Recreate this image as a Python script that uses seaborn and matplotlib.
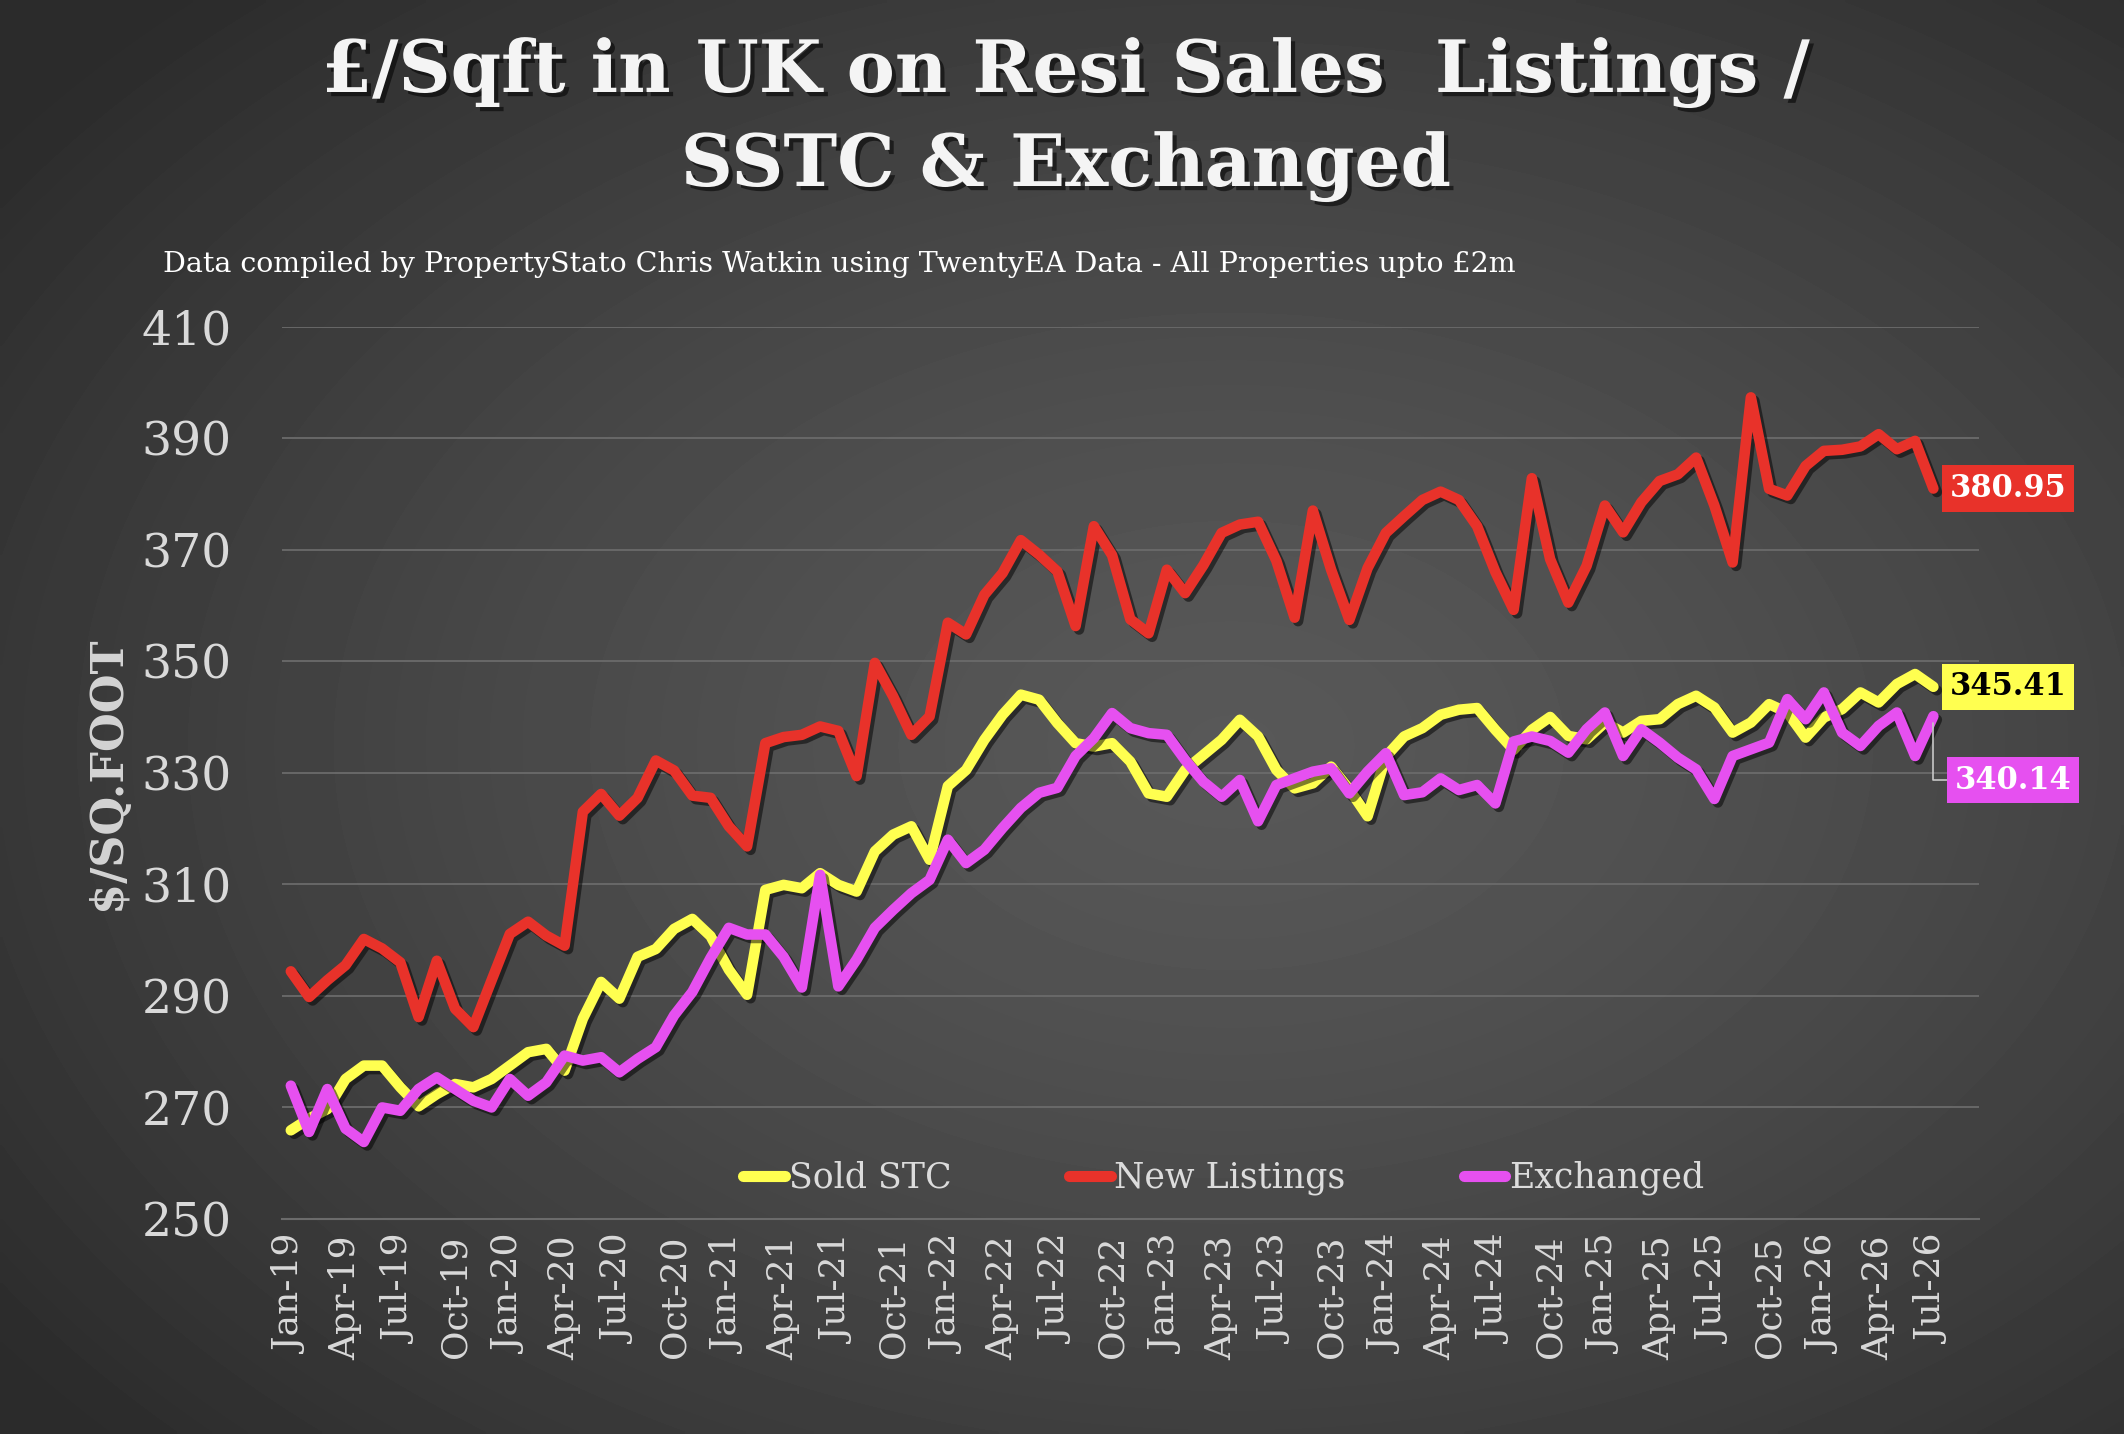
import numpy as np
import pandas as pd
import matplotlib
matplotlib.use("Agg")
import matplotlib.pyplot as plt
import matplotlib.patheffects as pe
from matplotlib.lines import Line2D
import seaborn as sns

# ---------------- data ----------------
new_listings = [
    294.4, 289.8, 292.8, 295.5, 300.2, 298.5, 296.0, 286.2, 296.3, 287.7,
    284.4, 292.8, 301.1, 303.3, 300.8, 299.0, 323.0, 326.2, 322.3, 325.5,
    332.2, 330.4, 325.9, 325.5, 320.4, 316.8, 335.3, 336.4, 336.8, 338.3,
    337.5, 329.4, 349.7, 343.7, 336.8, 340.1, 356.9, 354.8, 361.9, 365.8,
    371.7, 369.1, 366.1, 356.3, 374.2, 369.0, 357.5, 355.0, 366.4, 362.2,
    367.2, 373.0, 374.5, 375.0, 368.0, 357.8, 377.0, 366.4, 357.4, 366.7,
    373.0, 376.0, 378.9, 380.4, 378.9, 374.2, 366.0, 359.2, 382.8, 368.3,
    360.5, 367.1, 377.9, 373.1, 378.5, 382.3, 383.5, 386.5, 377.9, 367.7,
    397.3, 380.9, 379.7, 385.0, 387.7, 387.9, 388.5, 390.7, 388.0, 389.5,
    380.95,
]
sold_stc = [
    265.9, 268.0, 269.7, 275.1, 277.5, 277.5, 273.6, 270.2, 272.4, 274.2,
    273.6, 275.1, 277.5, 279.9, 280.5, 276.6, 285.9, 292.5, 289.5, 297.0,
    298.4, 302.0, 303.8, 300.7, 294.7, 290.2, 309.0, 309.9, 309.3, 312.0,
    309.9, 308.7, 315.9, 318.9, 320.4, 314.4, 327.6, 330.5, 335.9, 340.4,
    344.0, 343.1, 338.9, 335.3, 334.7, 335.3, 332.0, 326.3, 325.7, 330.5,
    333.2, 335.9, 339.5, 336.5, 330.5, 327.2, 328.1, 331.1, 327.0, 322.2,
    332.9, 336.5, 338.0, 340.4, 341.3, 341.6, 337.7, 334.1, 337.7, 340.0,
    336.6, 336.0, 339.0, 337.2, 339.3, 339.6, 342.3, 343.8, 341.7, 337.2,
    339.0, 342.3, 340.8, 336.3, 339.9, 341.4, 344.4, 342.6, 345.9, 347.7,
    345.41,
]
exchanged = [
    273.9, 265.6, 273.3, 266.2, 263.8, 270.0, 269.4, 273.3, 275.4, 273.3,
    271.2, 270.0, 275.1, 272.1, 274.5, 279.3, 278.4, 279.0, 276.3, 278.7,
    280.8, 286.5, 290.7, 296.8, 302.2, 301.0, 301.0, 297.0, 291.5, 311.7,
    291.7, 296.5, 302.2, 305.4, 308.4, 310.8, 318.0, 313.8, 316.2, 320.1,
    323.7, 326.4, 327.3, 333.0, 336.2, 340.7, 338.0, 337.1, 336.8, 332.3,
    328.4, 325.7, 328.7, 321.3, 327.8, 329.0, 330.2, 330.8, 326.3, 330.2,
    333.5, 326.0, 326.5, 329.0, 326.9, 327.8, 324.5, 335.6, 336.5, 335.7,
    333.6, 337.8, 340.8, 333.0, 337.8, 335.4, 332.7, 330.6, 325.3, 333.0,
    334.2, 335.4, 343.2, 339.6, 344.4, 337.2, 334.8, 338.4, 340.8, 333.0,
    340.14,
]
months = pd.date_range("2019-01-01", periods=len(new_listings), freq="MS").strftime("%b-%y").tolist()
tick_labels = months[::3]
y_ticks = [250, 270, 290, 310, 330, 350, 370, 390, 410]
series_names = ["Sold STC", "New Listings", "Exchanged"]
series_colors = {"Sold STC": "#ffff50", "New Listings": "#e8322a", "Exchanged": "#e650f0"}
label_text_colors = {"Sold STC": "black", "New Listings": "white", "Exchanged": "white"}

title_1 = "£/Sqft in UK on Resi Sales  Listings /"
title_2 = "SSTC & Exchanged"
subtitle = "Data compiled by PropertyStato Chris Watkin using TwentyEA Data - All Properties upto £2m"
y_label = r"\$/SQ.FOOT"

# ---------------- style ----------------
W, H, DPI = 2124, 1434, 100
sns.set_theme(style="dark", rc={"axes.facecolor": "none", "figure.facecolor": "#333333"})
plt.rcParams["font.family"] = ["DejaVu Serif", "DejaVu Sans"]

fig = plt.figure(figsize=(W / DPI, H / DPI), dpi=DPI)

# background radial gradient
bg = fig.add_axes([0, 0, 1, 1], zorder=-10)
yy, xx = np.mgrid[0:1:300j, 0:1:450j]
r = np.sqrt(((xx - 0.58) / 0.72) ** 2 + ((yy - 0.52) / 0.72) ** 2)
shade = 0.345 - 0.175 * np.clip(r, 0, 1) ** 1.4
bg.imshow(shade, extent=[0, 1, 0, 1], aspect="auto", cmap="gray", vmin=0, vmax=1,
          interpolation="bilinear")
bg.set_axis_off()

# main axes
x0, x1 = 281.7, 1979.0
y_top, y_bot = 326.5, 1219.0
ax = fig.add_axes([x0 / W, 1 - y_bot / H, (x1 - x0) / W, (y_bot - y_top) / H])
ax.set_facecolor("none")

df = pd.DataFrame({
    "month": np.tile(np.arange(len(months)), 3),
    "value": sold_stc + new_listings + exchanged,
    "series": np.repeat(series_names, len(months)),
})
sns.lineplot(data=df, x="month", y="value", hue="series", hue_order=series_names,
             palette=series_colors, linewidth=7.6, legend=False, ax=ax,
             estimator=None, sort=False)
for ln in ax.lines:
    ln.set_solid_capstyle("round")
    ln.set_solid_joinstyle("round")
    ln.set_path_effects([pe.SimpleLineShadow(offset=(2.5, -2.5), shadow_color="black", alpha=0.5),
                         pe.Normal()])

ax.set_xlim(-0.5, 92.5)
ax.set_ylim(250, 410)
ax.set_yticks(y_ticks)
ax.set_yticklabels([str(v) for v in y_ticks])
ax.grid(axis="y", color="#6b6b6b", lw=1.3)
ax.grid(axis="x", visible=False)
ax.set_axisbelow(True)
for s in ["top", "right", "left"]:
    ax.spines[s].set_visible(False)
ax.spines["bottom"].set_color("#6b6b6b")
ax.spines["bottom"].set_linewidth(1.5)

ax.set_xticks(np.arange(0, len(months), 3))
ax.set_xticklabels(tick_labels, rotation=90)
ax.set_xticks(np.arange(-0.5, 93, 3), minor=True)
ax.tick_params(axis="x", which="major", length=0, pad=12, labelsize=26, labelcolor="#d9d9d9")
ax.tick_params(axis="x", which="minor", length=8, width=1.3, color="#6b6b6b")
ax.tick_params(axis="y", length=0, pad=36, labelsize=34, labelcolor="#d9d9d9")
ax.set_xlabel("")
ax.set_ylabel("")

# legend
handles = [Line2D([0], [0], color=series_colors[n], lw=8, solid_capstyle="round") for n in series_names]
ax.legend(handles, series_names, loc="center", bbox_to_anchor=(0.555, 0.046), ncol=3,
          frameon=False, fontsize=25, handlelength=1.2, handletextpad=0.1,
          columnspacing=3.4, labelcolor="#dcdcdc")

# end value labels
last = {"New Listings": new_listings[-1], "Sold STC": sold_stc[-1], "Exchanged": exchanged[-1]}
offsets = {"New Listings": (11.5, 0), "Sold STC": (11.5, 0), "Exchanged": (15.5, -46)}
for n in series_names:
    kw = {}
    if n == "Exchanged":
        kw["arrowprops"] = dict(arrowstyle="-", color="#c8c8c8", lw=1.2, shrinkA=0, shrinkB=5,
                                connectionstyle="angle,angleA=0,angleB=90,rad=0")
    ax.annotate(f"{last[n]:.2f}", xy=(len(months) - 1, last[n]), xytext=offsets[n],
                textcoords="offset points", ha="left", va="center", fontsize=22,
                fontweight="bold", color=label_text_colors[n], annotation_clip=False,
                bbox=dict(boxstyle="square,pad=0.25", fc=series_colors[n], ec="none"), **kw)

# titles
shadow = [pe.withSimplePatchShadow(offset=(3, -3), shadow_rgbFace="black", alpha=0.55)]
fig.text(0.502, 1 - 92 / H, title_1, ha="center", va="baseline", fontsize=52,
         fontweight="bold", color="#f4f4f4", path_effects=shadow)
fig.text(0.502, 1 - 186 / H, title_2, ha="center", va="baseline", fontsize=52,
         fontweight="bold", color="#f4f4f4", path_effects=shadow)
fig.text(163 / W, 1 - 272 / H, subtitle, ha="left", va="baseline", fontsize=20.5, color="white")
fig.text(108 / W, 1 - 773 / H, y_label, rotation=90, ha="center", va="center", fontsize=32,
         fontweight="bold", color="#d4d4d4")

fig.savefig("out.png", dpi=DPI)
